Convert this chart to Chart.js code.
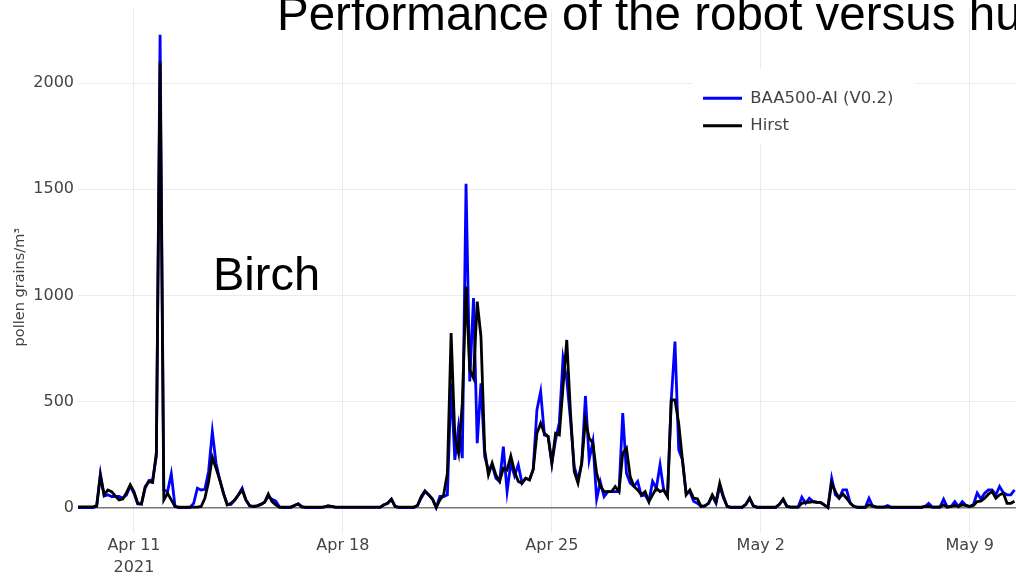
<!DOCTYPE html>
<html>
<head>
<meta charset="utf-8">
<title>Birch pollen - robot vs Hirst</title>
<script src="https://cdn.jsdelivr.net/npm/chart.js@4.4.0/dist/chart.umd.min.js"></script>
<style>
    html, body { margin: 0; padding: 0; background: #fff; overflow: hidden; }
    #wrap { position: relative; width: 1016px; height: 580px; overflow: hidden; }
    #wrap canvas { position: absolute; left: 0; top: 0; }
    .label { position: absolute; white-space: nowrap; color: #000; line-height: 1;
             font-family: "Liberation Sans", Arial, sans-serif; }
    #title { left: 277px; top: -10px; font-size: 47.5px; }
    #birch { left: 213px; top: 250px; font-size: 47px; }
</style>
</head>
<body>
<div id="wrap">
    <canvas id="pollenChart" width="1016" height="580"></canvas>
    <div class="label" id="title">Performance of the robot versus human</div>
    <div class="label" id="birch">Birch</div>
</div>
<script>
// samples every 3 hours, x in days relative to Apr 11 2021 00:00
const startDay = -1.875;   // Apr 9, 03:00
const stepDay = 0.125;

// BAA500-AI (V0.2), pollen grains/m3 (one row = one day)
const baa500 = [
    0, 0, 0, 0, 0, 5, 159, 55,
    60, 52, 52, 52, 44, 60, 102, 67,
    17, 16, 91, 127, 130, 240, 2228, 83,
    75, 159, 5, 0, 0, 0, 0, 20,
    91, 83, 86, 170, 358, 209, 130, 67,
    13, 15, 35, 60, 91, 36, 8, 5,
    8, 15, 25, 52, 39, 30, 2, 0,
    0, 0, 10, 17, 5, 0, 0, 0,
    0, 0, 3, 8, 5, 1, 1, 1,
    1, 1, 1, 1, 1, 1, 1, 1,
    1, 1, 13, 20, 39, 5, 0, 0,
    0, 0, 0, 10, 45, 75, 60, 40,
    0, 52, 52, 60, 586, 225, 382, 233,
    1526, 594, 987, 303, 586, 240, 177, 200,
    138, 123, 287, 75, 209, 150, 201, 115,
    138, 130, 180, 460, 547, 342, 335, 209,
    319, 400, 704, 602, 413, 193, 130, 209,
    526, 225, 311, 40, 120, 52, 75, 75,
    75, 75, 445, 162, 115, 100, 123, 55,
    60, 28, 123, 91, 201, 80, 52, 507,
    782, 272, 225, 68, 75, 30, 20, 5,
    8, 20, 55, 20, 100, 45, 5, 0,
    0, 0, 0, 15, 44, 8, 0, 0,
    0, 0, 0, 0, 15, 39, 5, 2,
    2, 2, 49, 20, 44, 28, 25, 24,
    13, 0, 138, 60, 44, 83, 83, 20,
    5, 0, 0, 0, 44, 5, 2, 2,
    2, 9, 0, 0, 0, 0, 0, 0,
    0, 0, 0, 5, 20, 2, 2, 2,
    39, 2, 5, 28, 5, 28, 10, 5,
    15, 68, 40, 68, 83, 83, 60, 99,
    70, 60, 60, 83
];

// Hirst trap, pollen grains/m3
const hirst = [
    3, 3, 3, 3, 3, 8, 150, 60,
    83, 75, 55, 36, 40, 70, 107, 75,
    20, 16, 99, 122, 118, 260, 2102, 36,
    67, 36, 5, 2, 2, 2, 2, 2,
    2, 5, 44, 122, 237, 185, 130, 67,
    13, 20, 35, 60, 83, 36, 8, 5,
    8, 15, 25, 64, 28, 13, 2, 2,
    2, 2, 10, 17, 2, 2, 2, 2,
    2, 2, 3, 8, 5, 2, 2, 2,
    2, 2, 2, 2, 2, 2, 2, 2,
    2, 2, 13, 20, 39, 5, 2, 2,
    2, 2, 2, 10, 52, 79, 60, 40,
    0, 36, 60, 162, 822, 335, 256, 492,
    1042, 649, 610, 971, 806, 272, 154, 209,
    154, 123, 185, 177, 243, 170, 123, 115,
    138, 130, 180, 350, 397, 350, 335, 209,
    350, 342, 570, 790, 445, 170, 115, 209,
    413, 327, 303, 162, 100, 75, 75, 75,
    99, 75, 256, 280, 146, 99, 83, 60,
    75, 28, 60, 91, 75, 83, 52, 507,
    507, 397, 225, 60, 83, 44, 41, 5,
    8, 20, 60, 28, 115, 52, 5, 2,
    2, 2, 2, 15, 44, 8, 2, 2,
    2, 2, 2, 2, 15, 39, 5, 2,
    2, 2, 20, 24, 24, 28, 25, 24,
    13, 0, 115, 75, 44, 64, 44, 20,
    5, 2, 2, 2, 13, 8, 2, 2,
    2, 2, 2, 2, 2, 2, 2, 2,
    2, 2, 2, 5, 5, 2, 2, 2,
    13, 2, 5, 10, 5, 13, 10, 5,
    10, 28, 30, 44, 63, 75, 44, 60,
    68, 20, 20, 30
];

const xTickDays = [0, 7, 14, 21, 28];
const xTickLabels = [['Apr 11', '2021'], 'Apr 18', 'Apr 25', 'May 2', 'May 9'];
const yTickValues = [0, 500, 1000, 1500, 2000];

const toPoints = (vals) => vals.map((v, i) => ({ x: startDay + i * stepDay, y: v }));

const fontFamily = '"DejaVu Sans", Verdana, sans-serif';
const gridColor = '#ebebeb';

// legend sits inside the plot (top right) on a white box
const legendPos = { left: 692, top: 79 };
const legendBg = { x: 692, y: 68, w: 223, h: 75 };
const legendInPlot = {
    id: 'legendInPlot',
    afterLayout(chart) {
        const lg = chart.legend;
        if (!lg) return;
        const w = lg.right - lg.left, h = lg.bottom - lg.top;
        lg.left = legendPos.left;
        lg.top = legendPos.top;
        lg.right = legendPos.left + w;
        lg.bottom = legendPos.top + h;
        if (!lg._withBg) {
            const origDraw = lg.draw.bind(lg);
            lg.draw = function (area) {
                const c = this.ctx;
                c.save();
                c.fillStyle = '#fff';
                c.fillRect(legendBg.x, legendBg.y, legendBg.w, legendBg.h);
                c.restore();
                origDraw(area);
            };
            lg._withBg = true;
        }
    }
};

const ctx = document.getElementById('pollenChart');
new Chart(ctx, {
    type: 'line',
    data: {
        datasets: [{
            label: 'BAA500-AI (V0.2)',
            data: toPoints(baa500),
            borderColor: '#0000ff',
            backgroundColor: '#0000ff',
            borderWidth: 2.8,
            pointRadius: 0,
            tension: 0,
            order: 1
        }, {
            label: 'Hirst',
            data: toPoints(hirst),
            borderColor: '#000000',
            backgroundColor: '#000000',
            borderWidth: 2.8,
            pointRadius: 0,
            tension: 0,
            order: 0
        }]
    },
    options: {
        responsive: false,
        animation: false,
        layout: { padding: { top: 9, right: 0, bottom: 0, left: 0 } },
        plugins: {
            tooltip: { enabled: false },
            legend: {
                position: 'chartArea',
                align: 'start',
                labels: {
                    usePointStyle: true,
                    pointStyle: 'line',
                    pointStyleWidth: 39,
                    padding: 11,
                    color: '#444',
                    font: { family: fontFamily, size: 16.5, lineHeight: 1.15 },
                    sort: (a, b) => a.datasetIndex - b.datasetIndex
                }
            }
        },
        scales: {
            x: {
                type: 'linear',
                min: startDay,
                max: 29.55,
                afterBuildTicks: (axis) => { axis.ticks = xTickDays.map(v => ({ value: v })); },
                afterFit: (axis) => { axis.height = 47; axis.paddingLeft = 0; axis.paddingRight = 0; },
                ticks: {
                    autoSkip: false,
                    maxRotation: 0,
                    padding: 2,
                    color: '#444',
                    font: { family: fontFamily, size: 16, lineHeight: 1.35 },
                    callback: (value) => xTickLabels[xTickDays.indexOf(value)]
                },
                grid: { color: gridColor, drawTicks: false, z: -1 },
                border: { display: false }
            },
            y: {
                min: -120,
                max: 2350,
                afterBuildTicks: (axis) => { axis.ticks = yTickValues.map(v => ({ value: v })); },
                afterFit: (axis) => { axis.width = 78; axis.paddingTop = 0; axis.paddingBottom = 0; },
                ticks: {
                    padding: 4,
                    color: '#444',
                    font: { family: fontFamily, size: 16 },
                    callback: (value) => String(value)
                },
                grid: {
                    drawTicks: false,
                    z: -1,
                    color: (c) => c.tick && c.tick.value === 0 ? '#777' : gridColor,
                    lineWidth: (c) => c.tick && c.tick.value === 0 ? 1.6 : 1
                },
                border: { display: false },
                title: {
                    display: true,
                    // trailing spaces push the centred label a little down, as in the original
                    text: 'pollen grains/m³       ',
                    color: '#444',
                    padding: { top: 12, bottom: 0 },
                    font: { family: fontFamily, size: 14.5 }
                }
            }
        }
    },
    plugins: [legendInPlot]
});
</script>
</body>
</html>
